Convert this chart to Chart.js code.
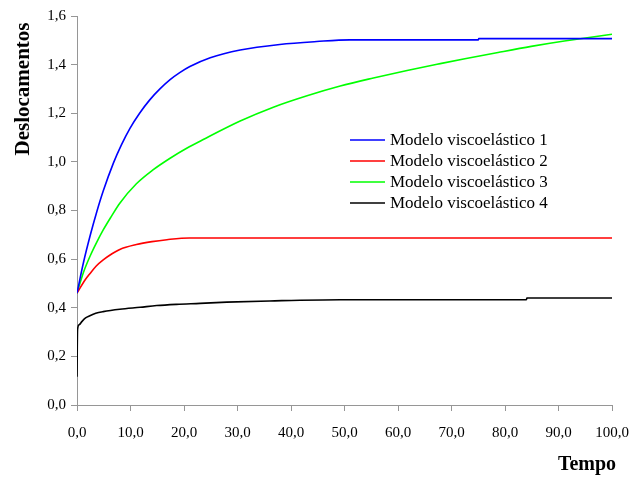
<!DOCTYPE html>
<html>
<head>
<meta charset="utf-8">
<script src="https://cdn.jsdelivr.net/npm/chart.js@4/dist/chart.umd.min.js"></script>
<style>
  html, body { margin: 0; padding: 0; background: #fff; }
  #grafico { display: block; }
</style>
</head>
<body>
<canvas id="grafico" width="631" height="479"></canvas>
<script>
// Deslocamento ao longo do tempo para os quatro modelos viscoelásticos
const nomesModelos = [
  "Modelo viscoelástico 1",
  "Modelo viscoelástico 2",
  "Modelo viscoelástico 3",
  "Modelo viscoelástico 4",
];
const coresModelos = ["#0000ff", "#ff0000", "#00ff00", "#000000"];

const tempoM1 = [0, 1.2, 2.5, 3.7, 4.9, 6.8, 8.3, 9.9, 11.7, 13.6, 15.5, 17.4, 19.2, 21.1, 24.9, 30.5, 37.9, 44.8, 51, 60, 75, 75.1, 100];
const deslocM1 = [0.46, 0.585, 0.70, 0.795, 0.88, 0.995, 1.07, 1.138, 1.2, 1.255, 1.3, 1.338, 1.367, 1.392, 1.428, 1.46, 1.483, 1.495, 1.502, 1.502, 1.502, 1.507, 1.507];

const tempoM2 = [0, 1.5, 2.4, 3.6, 4.9, 6.4, 8.0, 11.1, 14.0, 16.8, 21, 30, 100];
const deslocM2 = [0.46, 0.514, 0.54, 0.572, 0.597, 0.62, 0.64, 0.66, 0.672, 0.68, 0.687, 0.687, 0.687];

const tempoM3 = [0, 1.2, 2.5, 3.7, 4.9, 6.4, 8.0, 11.1, 14.2, 17.4, 20.5, 23.6, 30.5, 36.7, 43, 49.2, 55.4, 61.7, 67.9, 72.5, 78.7, 84.9, 91.1, 100];
const deslocM3 = [0.46, 0.545, 0.615, 0.67, 0.72, 0.775, 0.83, 0.91, 0.967, 1.015, 1.056, 1.092, 1.168, 1.225, 1.272, 1.312, 1.345, 1.376, 1.404, 1.424, 1.45, 1.475, 1.497, 1.525];

const tempoM4 = [0, 0.1, 0.4, 0.9, 1.6, 2.4, 3.5, 4.9, 8.0, 11.8, 14.9, 18.6, 23, 28, 36, 49.2, 84, 84.1, 100];
const deslocM4 = [0.116, 0.31, 0.33, 0.343, 0.358, 0.367, 0.377, 0.384, 0.394, 0.402, 0.409, 0.414, 0.418, 0.423, 0.428, 0.433, 0.433, 0.44, 0.44];

const tempos = [tempoM1, tempoM2, tempoM3, tempoM4];
const deslocamentos = [deslocM1, deslocM2, deslocM3, deslocM4];

const fonteSerif = '"Liberation Serif", "Times New Roman", serif';
const corEixo = "#969696";

function virgula(v) {
  return Number(v).toFixed(1).replace(".", ",");
}

const datasets = nomesModelos.map((nome, i) => ({
  label: nome,
  data: tempos[i].map((t, k) => ({ x: t, y: deslocamentos[i][k] })),
  borderColor: coresModelos[i],
  borderWidth: 1.6,
  pointRadius: 0,
  fill: false,
  cubicInterpolationMode: "monotone",
}));

// legenda e títulos dos eixos desenhados à mão
const extras = {
  id: "extras",
  afterDraw(chart) {
    const ctx = chart.ctx;
    ctx.save();

    ctx.font = "17px " + fonteSerif;
    ctx.textBaseline = "middle";
    ctx.textAlign = "left";
    chart.data.datasets.forEach((ds, i) => {
      const y = 140 + i * 21;
      ctx.strokeStyle = ds.borderColor;
      ctx.lineWidth = 1.6;
      ctx.beginPath();
      ctx.moveTo(350, y);
      ctx.lineTo(385, y);
      ctx.stroke();
      ctx.fillStyle = "#000";
      ctx.fillText(ds.label, 390, y + 1);
    });

    ctx.fillStyle = "#000";
    ctx.font = "bold 20px " + fonteSerif;
    ctx.textAlign = "center";
    ctx.textBaseline = "middle";
    ctx.fillText("Tempo", 587, 465);

    ctx.translate(24, 89);
    ctx.rotate(-Math.PI / 2);
    ctx.font = "bold 21px " + fonteSerif;
    ctx.fillText("Deslocamentos", 0, 0);

    ctx.restore();
  },
};

new Chart(document.getElementById("grafico"), {
  type: "line",
  data: { datasets },
  plugins: [extras],
  options: {
    responsive: false,
    animation: false,
    devicePixelRatio: 1,
    layout: { padding: { top: 16, right: 19, left: 0, bottom: 0 } },
    plugins: {
      legend: { display: false },
      tooltip: { enabled: false },
    },
    scales: {
      x: {
        type: "linear",
        min: 0,
        max: 100,
        ticks: {
          stepSize: 10,
          maxRotation: 0,
          padding: 13,
          color: "#000",
          font: { family: fonteSerif, size: 15 },
          callback: (v) => virgula(v),
        },
        grid: { drawOnChartArea: false, tickLength: 6, color: corEixo },
        border: { color: corEixo },
        afterFit(scale) {
          scale.height = 74;
          scale.paddingLeft = 0;
          scale.paddingRight = 0;
        },
      },
      y: {
        min: 0,
        max: 1.6,
        ticks: {
          stepSize: 0.2,
          padding: 5,
          color: "#000",
          font: { family: fonteSerif, size: 15 },
          callback: (v) => virgula(v),
        },
        grid: { drawOnChartArea: false, tickLength: 6, color: corEixo },
        border: { color: corEixo },
        afterFit(scale) {
          scale.width = 77;
          scale.paddingTop = 0;
          scale.paddingBottom = 0;
        },
      },
    },
  },
});
</script>
</body>
</html>
